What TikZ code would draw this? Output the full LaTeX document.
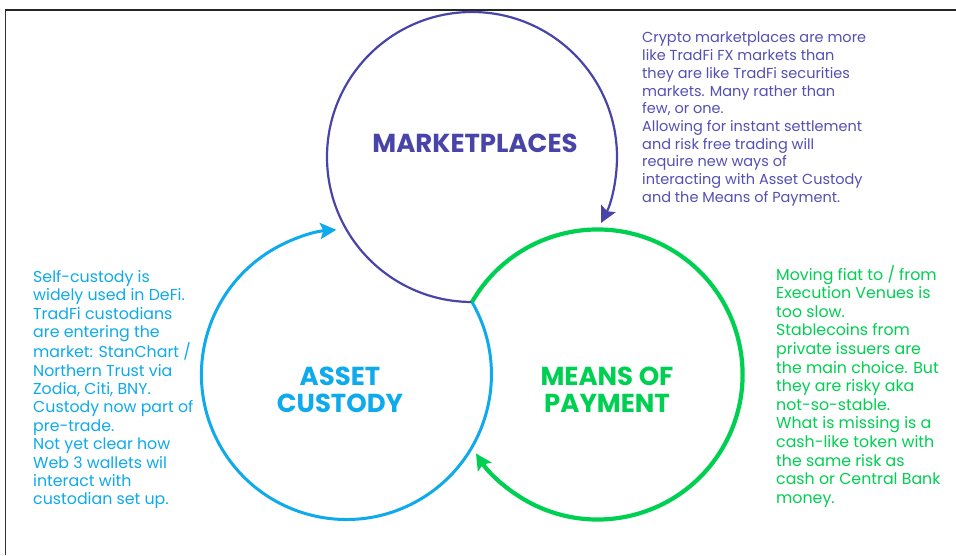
\documentclass[tikz,border=0pt]{standalone}
\usepackage{fontspec}
\setmainfont{Poppins}
\usetikzlibrary{arrows.meta,calc}
\definecolor{mkt}{RGB}{72,68,168}
\definecolor{mkttext}{RGB}{84,80,180}
\definecolor{cust}{RGB}{14,170,235}
\definecolor{pay}{RGB}{0,208,82}
\tikzset{
  ring/.style={line cap=butt},
  tip/.style={-{Stealth[length=16pt,width=16pt,inset=3pt]}},
  title/.style={font=\fontsize{26}{27}\selectfont\bfseries, align=center, inner sep=0pt},
  note/.style={align=left, inner sep=0pt, anchor=north west},
}
\begin{document}
\begin{tikzpicture}[x=1pt,y=1pt]
\useasboundingbox (0,0) rectangle (956,555);
\fill[white] (0,0) rectangle (956,555);
% frame
\draw[black!80, line width=1pt] (5,0) -- (5,545);
\draw[black!85, line width=1.8pt] (5,545) -- (956,545);
% geometry
\coordinate (T) at (472,253);
% arcs
\draw[ring, tip, mkt, line width=2.2pt] (T) arc[start angle=270, end angle=-27, radius=145];
\draw[ring, tip, cust, line width=3pt] (T) arc[start angle=30, end angle=-266, radius=145];
\draw[ring, tip, pay, line width=4.2pt] (T) arc[start angle=150, end angle=-147, radius=145];
% titles
\node[title, text=mkt] (tm) at (475,412) {MARKETPLACES};
\node[title, text=cust] (ta) at (340,165) {ASSET\\CUSTODY};
\node[title, text=pay] (tp) at (607,165) {MEANS OF\\PAYMENT};
% notes
\node[note, text=mkttext, font=\fontsize{14.5}{17.7}\selectfont] (nm) at (642,523) {Crypto marketplaces are more\\like TradFi FX markets than\\they are like TradFi securities\\markets. Many rather than\\few, or one.\\Allowing for instant settlement\\and risk free trading will\\require new ways of\\interacting with Asset Custody\\and the Means of Payment.};
\node[note, text=cust, font=\fontsize{15.8}{18.4}\selectfont] (na) at (33,285) {Self-custody is\\widely used in DeFi.\\TradFi custodians\\are entering the\\market: StanChart /\\Northern Trust via\\Zodia, Citi, BNY.\\Custody now part of\\pre-trade.\\Not yet clear how\\Web 3 wallets wil\\interact with\\custodian set up.};
\node[note, text=pay, font=\fontsize{15.8}{18.6}\selectfont] (np) at (776,290) {Moving fiat to / from\\Execution Venues is\\too slow.\\Stablecoins from\\private issuers are\\the main choice. But\\they are risky aka\\not-so-stable.\\What is missing is a\\cash-like token with\\the same risk as\\cash or Central Bank\\money.};
\end{tikzpicture}
\end{document}
